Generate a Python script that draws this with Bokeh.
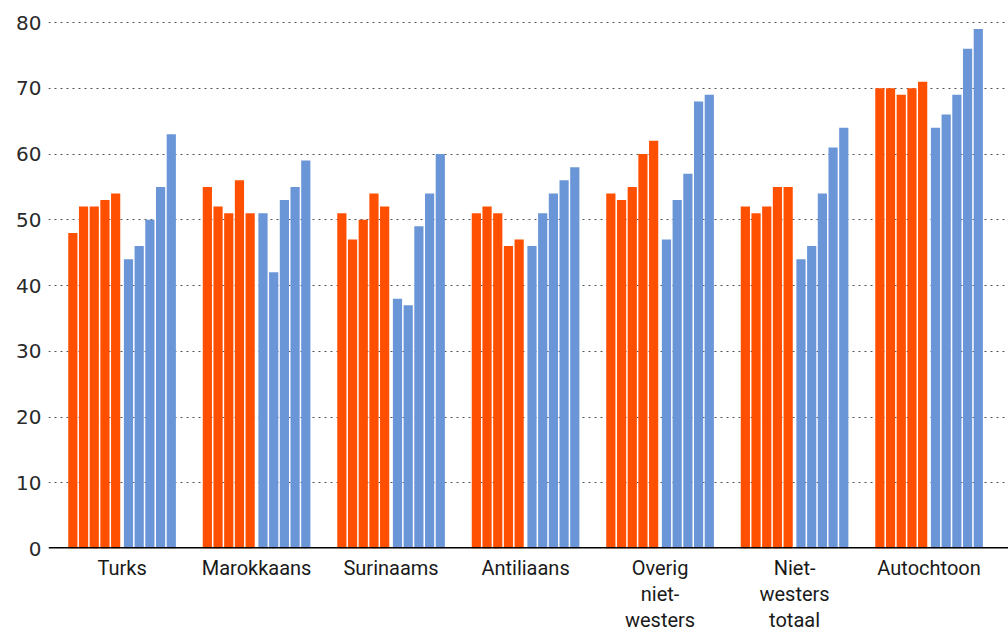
from bokeh.plotting import figure
from bokeh.models import Range1d, FixedTicker, Span
from bokeh.embed import file_html
from bokeh.resources import INLINE

groups = ["Turks", "Marokkaans", "Surinaams", "Antiliaans",
          "Overig\nniet-\nwesters", "Niet-\nwesters\ntotaal", "Autochtoon"]
orange_vals = [
    [48, 52, 52, 53, 54],
    [55, 52, 51, 56, 51],
    [51, 47, 50, 54, 52],
    [51, 52, 51, 46, 47],
    [54, 53, 55, 60, 62],
    [52, 51, 52, 55, 55],
    [70, 70, 69, 70, 71],
]
blue_vals = [
    [44, 46, 50, 55, 63],
    [51, 42, 53, 55, 59],
    [38, 37, 49, 54, 60],
    [46, 51, 54, 56, 58],
    [47, 53, 57, 68, 69],
    [44, 46, 54, 61, 64],
    [64, 66, 69, 76, 79],
]
y_ticks = [0, 10, 20, 30, 40, 50, 60, 70, 80]

ORANGE = "#FF4F00"
BLUE = "#6A96D8"
GROUP_STEP = 12.57
BLUE_OFFSET = 5.2
BAR_W = 0.86

ox, oy, bx, by = [], [], [], []
centers = []
for gi in range(len(groups)):
    base = gi * GROUP_STEP
    for j, v in enumerate(orange_vals[gi]):
        ox.append(base + j + 0.5)
        oy.append(v)
    for j, v in enumerate(blue_vals[gi]):
        bx.append(base + BLUE_OFFSET + j + 0.5)
        by.append(v)
    centers.append(base + (BLUE_OFFSET + 5) / 2)

x_start = -1.776
x_end = x_start + 960 / 10.7

p = figure(width=1008, height=636, output_backend="svg", toolbar_location=None,
           x_range=Range1d(x_start, x_end), y_range=Range1d(0, 83.35),
           min_border_left=48, min_border_right=0, min_border_top=0,
           min_border_bottom=88)
p.outline_line_color = None
p.background_fill_color = "white"
p.border_fill_color = "white"

p.vbar(x=ox, top=oy, width=BAR_W, bottom=0, fill_color=ORANGE, line_color=None)
p.vbar(x=bx, top=by, width=BAR_W, bottom=0, fill_color=BLUE, line_color=None)

p.xgrid.grid_line_color = None
p.ygrid.grid_line_color = "#555555"
p.ygrid.grid_line_dash = "2 4"
p.ygrid.grid_line_width = 1.2
p.ygrid.ticker = FixedTicker(ticks=y_ticks[1:])

p.yaxis.ticker = FixedTicker(ticks=y_ticks)
p.yaxis.axis_line_color = None
p.yaxis.major_tick_line_color = None
p.yaxis.minor_tick_line_color = None
p.yaxis.major_tick_out = 0
p.yaxis.major_tick_in = 0
p.yaxis.major_label_text_font = "DejaVu Sans"
p.yaxis.major_label_text_font_size = "20px"
p.yaxis.major_label_text_color = "#2a2a2a"
p.yaxis.major_label_standoff = 7

p.xaxis.ticker = FixedTicker(ticks=centers)
p.xaxis.major_label_overrides = {c: g for c, g in zip(centers, groups)}
p.xaxis.axis_line_color = None
p.xaxis.major_tick_line_color = None
p.xaxis.minor_tick_line_color = None
p.xaxis.major_tick_out = 0
p.xaxis.major_tick_in = 0
p.xaxis.major_label_text_font = "Roboto"
p.xaxis.major_label_text_font_size = "20px"
p.xaxis.major_label_text_color = "#1a1a1a"
p.xaxis.major_label_standoff = 7
p.xaxis.major_label_text_line_height = 1.1

p.add_layout(Span(location=0, dimension="width", line_color="black", line_width=3))

open("out.html", "w").write(file_html(p, INLINE))
